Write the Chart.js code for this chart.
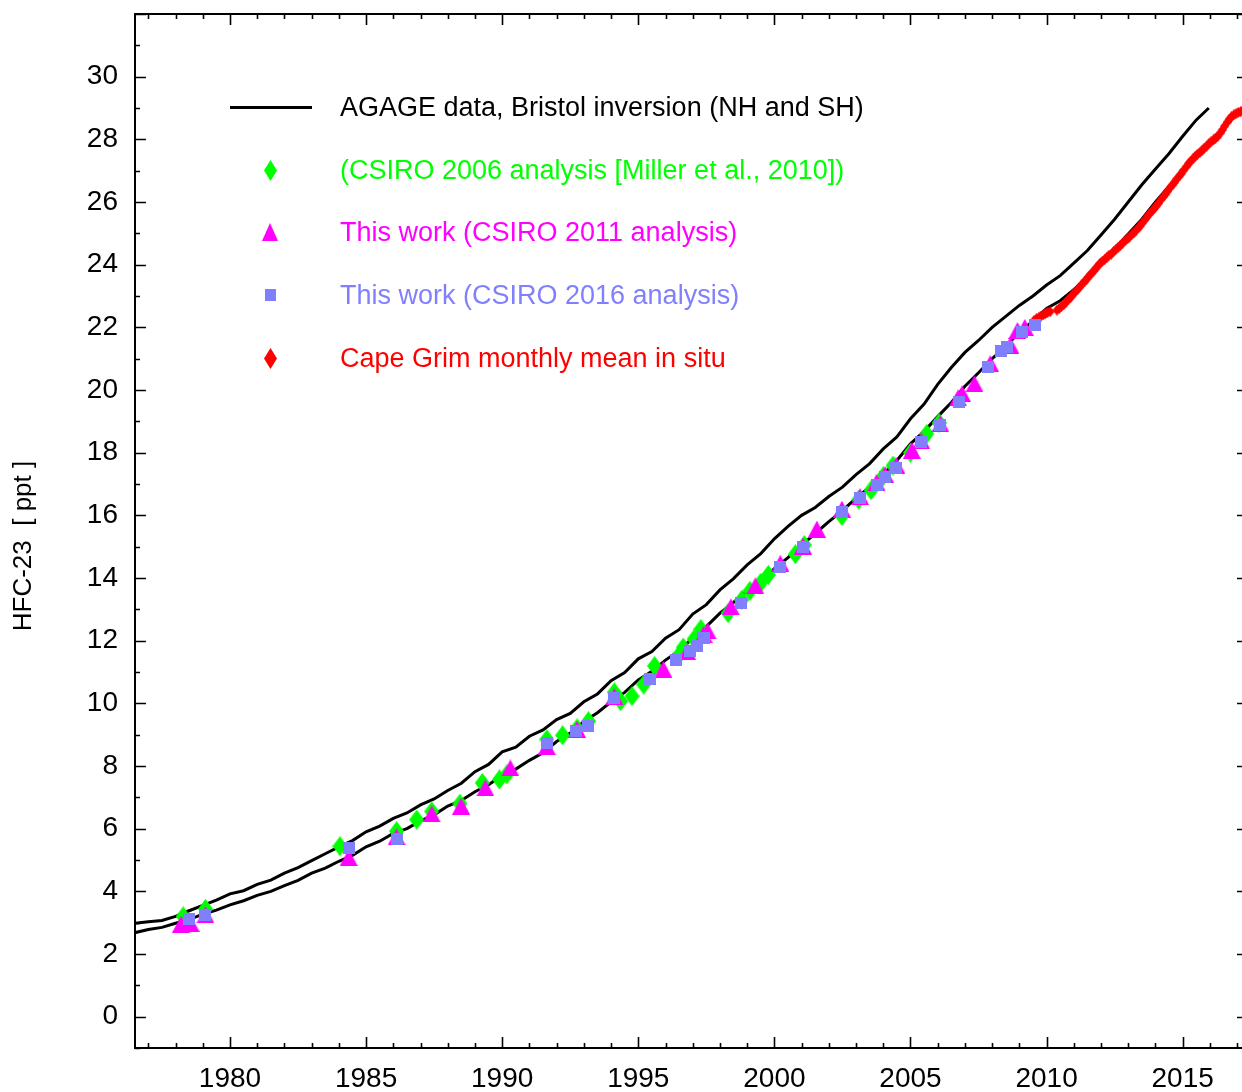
<!DOCTYPE html>
<html>
<head>
<meta charset="utf-8">
<script src="https://cdn.jsdelivr.net/npm/chart.js@4.4.1/dist/chart.umd.min.js"></script>
<style>
html,body{margin:0;padding:0;overflow:hidden;background:#fff;width:1242px;height:1092px;}
#wrap{position:relative;width:1242px;height:1092px;overflow:hidden;}
#c{position:absolute;left:0;top:0;width:1248px;height:1092px;}
#legend{position:absolute;left:0;top:0;width:1242px;height:1092px;pointer-events:none;font-family:"Liberation Sans",Arial,sans-serif;font-size:27px;}
.txt{position:absolute;left:340px;white-space:nowrap;line-height:30px;height:30px;}
.mk{position:absolute;}
#ytitle{position:absolute;left:22px;top:546px;transform:translate(-50%,-50%) rotate(-90deg);white-space:pre;font-family:"Liberation Sans",Arial,sans-serif;font-size:26px;color:#000;}
</style>
</head>
<body>
<div id="wrap"><canvas id="c" width="1248" height="1092"></canvas><div id="legend"></div><div id="ytitle"></div></div>
<script>
// ---------------- data ----------------
const xTickLabels = [1980, 1985, 1990, 1995, 2000, 2005, 2010, 2015];
const yTickLabels = [0, 2, 4, 6, 8, 10, 12, 14, 16, 18, 20, 22, 24, 26, 28, 30];
const yAxisTitle = "HFC-23  [ ppt ]";

const seriesNames = [
  "AGAGE data, Bristol inversion (NH and SH)",
  "(CSIRO 2006 analysis [Miller et al., 2010])",
  "This work (CSIRO 2011 analysis)",
  "This work (CSIRO 2016 analysis)",
  "Cape Grim monthly mean in situ"
];

const nhYears = [1976.5,1977,1977.5,1978,1978.5,1979,1979.5,1980,1980.5,1981,1981.5,1982,1982.5,1983,1983.5,1984,1984.5,1985,1985.5,1986,1986.5,1987,1987.5,1988,1988.5,1989,1989.5,1990,1990.5,1991,1991.5,1992,1992.5,1993,1993.5,1994,1994.5,1995,1995.5,1996,1996.5,1997,1997.5,1998,1998.5,1999,1999.5,2000,2000.5,2001,2001.5,2002,2002.5,2003,2003.5,2004,2004.5,2005,2005.5,2006,2006.5,2007,2007.5,2008,2008.5,2009,2009.5,2010,2010.5,2011,2011.5,2012,2012.5,2013,2013.5,2014,2014.5,2015,2015.5,2015.96];
const nhValues = [2.98,3.03,3.07,3.2,3.38,3.55,3.72,3.92,4.02,4.22,4.36,4.58,4.76,4.98,5.2,5.42,5.62,5.9,6.08,6.33,6.5,6.76,6.95,7.22,7.45,7.82,8.05,8.45,8.6,8.95,9.15,9.48,9.68,10.05,10.3,10.72,10.98,11.42,11.65,12.08,12.35,12.85,13.15,13.62,13.98,14.42,14.78,15.25,15.65,16.0,16.25,16.6,16.9,17.3,17.65,18.12,18.5,19.08,19.55,20.18,20.72,21.2,21.58,22.0,22.35,22.7,23.0,23.35,23.65,24.05,24.45,24.95,25.45,26.0,26.55,27.05,27.55,28.1,28.62,29.0];

const shYears = [1976.5,1977,1977.5,1978,1978.5,1979,1979.5,1980,1980.5,1981,1981.5,1982,1982.5,1983,1983.5,1984,1984.5,1985,1985.5,1986,1986.5,1987,1987.5,1988,1988.5,1989,1989.5,1990,1990.5,1991,1991.5,1992,1992.5,1993,1993.5,1994,1994.5,1995,1995.5,1996,1996.5,1997,1997.5,1998,1998.5,1999,1999.5,2000,2000.5,2001,2001.5,2002,2002.5,2003,2003.5,2004,2004.5,2005,2005.5,2006,2006.5,2007,2007.5,2008,2008.5,2009,2009.5,2010,2010.5,2011,2011.5,2012,2012.5,2013,2013.5,2014,2014.5,2015,2015.35];
const shValues = [2.68,2.78,2.85,2.98,3.1,3.27,3.4,3.57,3.7,3.87,4.0,4.18,4.35,4.58,4.74,4.96,5.15,5.42,5.6,5.85,6.0,6.25,6.44,6.72,6.9,7.18,7.4,7.7,7.9,8.18,8.42,8.78,9.05,9.42,9.7,10.05,10.35,10.75,11.02,11.38,11.68,12.08,12.45,12.88,13.22,13.6,13.92,14.3,14.65,15.05,15.42,15.8,16.15,16.55,16.9,17.32,17.75,18.28,18.68,19.15,19.6,20.12,20.55,21.0,21.38,21.85,22.2,22.6,22.85,23.2,23.62,24.15,24.5,24.98,25.45,26.0,26.5,26.95,27.3];

const csiro2006Years = [1978.28,1979.1,1984.04,1986.12,1986.86,1987.41,1988.45,1989.27,1989.9,1990.17,1991.64,1992.22,1992.75,1993.17,1994.12,1994.35,1994.77,1995.2,1995.6,1996.47,1996.65,1997.05,1997.3,1998.3,1998.8,1999.1,1999.5,1999.78,2000.77,2001.1,2002.48,2003.1,2003.55,2004.0,2004.36,2005.0,2005.6,2006.05];
const csiro2006Values = [3.2,3.44,5.44,5.92,6.29,6.55,6.8,7.46,7.57,7.73,8.85,8.98,9.2,9.43,10.35,10.07,10.23,10.6,11.19,11.51,11.78,12.05,12.37,12.88,13.3,13.59,13.85,14.1,14.76,15.05,15.98,16.5,16.8,17.25,17.59,18.0,18.6,18.95];

const csiro2011Years = [1978.2,1978.55,1979.1,1984.36,1986.12,1987.41,1988.49,1989.38,1990.3,1991.64,1992.75,1994.12,1995.92,1996.8,1997.4,1997.55,1998.4,1999.3,2000.22,2001.05,2001.56,2002.48,2003.15,2003.75,2004.07,2004.48,2005.05,2005.4,2006.1,2006.75,2006.9,2007.35,2007.93,2008.67,2008.93,2009.2];
const csiro2011Values = [2.95,2.98,3.25,5.08,5.74,6.47,6.72,7.3,7.94,8.62,9.17,10.22,11.09,11.65,12.2,12.31,13.08,13.75,14.47,15.02,15.56,16.2,16.6,17.05,17.3,17.6,18.07,18.38,18.92,19.75,19.88,20.2,20.84,21.43,21.9,22.0];

const csiro2016Years = [1978.49,1979.1,1984.38,1986.12,1991.64,1992.72,1993.17,1994.12,1995.44,1996.4,1996.9,1997.16,1997.4,1998.77,2000.22,2001.05,2002.48,2003.15,2003.77,2004.07,2004.48,2005.4,2006.1,2006.8,2007.83,2008.32,2008.56,2009.1,2009.56];
const csiro2016Values = [3.11,3.23,5.38,5.68,8.72,9.11,9.27,10.18,10.77,11.37,11.67,11.83,12.1,13.19,14.34,14.98,16.12,16.56,16.98,17.21,17.51,18.33,18.87,19.61,20.75,21.24,21.37,21.85,22.07];

const capeGrimYears = [2009.54,2009.63,2009.71,2009.79,2009.88,2009.96,
 2010.04,2010.13,2010.38,2010.46,2010.54,2010.63,2010.71,2010.79,2010.88,2010.96,
 2011.04,2011.13,2011.21,2011.29,2011.38,2011.46,2011.54,2011.63,2011.71,2011.79,2011.88,2011.96,
 2012.04,2012.13,2012.21,2012.29,2012.38,2012.46,2012.54,2012.63,2012.71,2012.79,2012.88,2012.96,
 2013.04,2013.13,2013.21,2013.29,2013.38,2013.46,2013.54,2013.63,2013.71,2013.79,2013.88,2013.96,
 2014.04,2014.13,2014.21,2014.29,2014.38,2014.46,2014.54,2014.63,2014.71,2014.79,2014.88,2014.96,
 2015.04,2015.13,2015.21,2015.29,2015.38,2015.46,2015.54,2015.63,2015.71,2015.79,2015.88,2015.96,
 2016.04,2016.13,2016.21,2016.29,2016.38,2016.46,2016.54,2016.63,2016.71,2016.79,2016.88,2016.96,
 2017.04,2017.13,2017.21];
const capeGrimValues = [22.22,22.28,22.30,22.36,22.40,22.44,
 22.48,22.50,22.55,22.60,22.66,22.72,22.80,22.88,22.95,23.04,
 23.12,23.20,23.28,23.36,23.45,23.52,23.62,23.70,23.78,23.86,23.95,24.04,
 24.10,24.16,24.22,24.30,24.34,24.42,24.48,24.55,24.62,24.68,24.76,24.82,
 24.88,24.96,25.02,25.10,25.18,25.26,25.36,25.45,25.55,25.63,25.72,25.80,
 25.88,25.98,26.08,26.17,26.26,26.36,26.46,26.55,26.64,26.74,26.83,26.92,
 27.02,27.12,27.22,27.30,27.38,27.46,27.52,27.58,27.64,27.72,27.78,27.86,
 27.92,27.98,28.04,28.10,28.20,28.30,28.42,28.54,28.64,28.72,28.78,28.82,
 28.86,28.88,28.92];

// ---------------- styling helpers ----------------
const FONT = '"Liberation Sans", Arial, sans-serif';
const COL = { line:'#000000', g:'#00ff00', m:'#ff00ff', b:'#8080ff', r:'#ff0000' };

function makeMarker(shape, w, h, color) {
  const c = document.createElement('canvas');
  c.width = w; c.height = h;
  const g = c.getContext('2d');
  g.fillStyle = color;
  g.beginPath();
  if (shape === 'diamond') { g.moveTo(w/2,0); g.lineTo(w,h/2); g.lineTo(w/2,h); g.lineTo(0,h/2); }
  else if (shape === 'triangle') { g.moveTo(w/2,0); g.lineTo(w,h); g.lineTo(0,h); }
  else { g.rect(0,0,w,h); }
  g.closePath(); g.fill();
  return c;
}
function pts(xs, ys) { return xs.map((x,i) => ({x:x, y:ys[i]})); }

const mkGreen = makeMarker('diamond', 15, 20, COL.g);
const mkTri = makeMarker('triangle', 18, 17, COL.m);
const mkSq = makeMarker('square', 12, 12, COL.b);
const mkRed = makeMarker('diamond', 9, 11, COL.r);

function markerSet(label, data, img) {
  return { label, data, pointStyle: img, pointRadius: 6, pointHoverRadius: 6, showLine: false,
           backgroundColor: 'transparent', borderColor: 'transparent' };
}
function lineSet(label, data) {
  return { label, data, showLine: true, pointRadius: 0, pointHoverRadius: 0, borderColor: COL.line,
           borderWidth: 3, tension: 0, fill: false };
}

// frame + inward tick marks (gnuplot-like), positioned through the scales
const framePlugin = {
  id: 'frame',
  afterDraw(chart) {
    const ctx = chart.ctx, ca = chart.chartArea, xs = chart.scales.x, ys = chart.scales.y;
    ctx.save();
    ctx.strokeStyle = '#000'; ctx.lineWidth = 2;
    ctx.strokeRect(ca.left, ca.top, ca.right - ca.left, ca.bottom - ca.top);
    ctx.lineWidth = 1.6;
    ctx.beginPath();
    for (let yr = Math.ceil(xs.min); yr <= xs.max; yr++) {
      const px = Math.round(xs.getPixelForValue(yr)) + 0.5;
      const len = (yr % 5 === 0) ? 11 : 5;
      ctx.moveTo(px, ca.bottom); ctx.lineTo(px, ca.bottom - len);
      ctx.moveTo(px, ca.top); ctx.lineTo(px, ca.top + len);
    }
    for (let v = Math.ceil(ys.min); v <= ys.max; v++) {
      const py = Math.round(ys.getPixelForValue(v)) + 0.5;
      const len = (v % 2 === 0) ? 11 : 5;
      ctx.moveTo(ca.left, py); ctx.lineTo(ca.left + len, py);
      ctx.moveTo(ca.right, py); ctx.lineTo(ca.right - len, py);
    }
    ctx.stroke();
    ctx.restore();
  }
};

function noPad(s) { s.paddingTop = 0; s.paddingBottom = 0; s.paddingLeft = 0; s.paddingRight = 0; }

const chart = new Chart(document.getElementById('c'), {
  type: 'scatter',
  data: {
    datasets: [
      markerSet(seriesNames[3], pts(csiro2016Years, csiro2016Values), mkSq),
      markerSet(seriesNames[2], pts(csiro2011Years, csiro2011Values), mkTri),
      markerSet(seriesNames[1], pts(csiro2006Years, csiro2006Values), mkGreen),
      markerSet(seriesNames[4], pts(capeGrimYears, capeGrimValues), mkRed),
      lineSet(seriesNames[0] + ' SH', pts(shYears, shValues)),
      lineSet(seriesNames[0] + ' NH', pts(nhYears, nhValues))
    ]
  },
  options: {
    responsive: false,
    devicePixelRatio: 1,
    animation: false,
    events: [],
    layout: { autoPadding: false, padding: { top: 14, right: 0, left: 0, bottom: 0 } },
    plugins: { legend: { display: false }, tooltip: { enabled: false } },
    scales: {
      x: {
        type: 'linear', min: 1976.51, max: 2017.4,
        afterFit(s) { s.height = 44; noPad(s); },
        afterBuildTicks(s) { s.ticks = xTickLabels.map(v => ({ value: v })); },
        grid: { display: false, drawTicks: false },
        border: { display: false },
        ticks: { color: '#000', font: { family: FONT, size: 28 }, padding: 14, maxRotation: 0, autoSkip: false,
                 callback: v => String(v) }
      },
      y: {
        type: 'linear', min: -1, max: 32,
        afterFit(s) { s.width = 135; noPad(s); },
        afterBuildTicks(s) { s.ticks = yTickLabels.map(v => ({ value: v })); },
        grid: { display: false, drawTicks: false },
        border: { display: false },
        ticks: { color: '#000', font: { family: FONT, size: 28 }, padding: 17, autoSkip: false,
                 callback: v => String(v) }
      }
    }
  },
  plugins: [framePlugin]
});

// ---------------- legend (HTML) ----------------
const legend = document.getElementById('legend');
const rowsY = [107, 170, 232, 295, 358];
const legendColors = [COL.line, COL.g, COL.m, COL.b, COL.r];
const legendMarkers = [null, makeMarker('diamond',13,21,COL.g), makeMarker('triangle',16,18,COL.m), makeMarker('square',11,12,COL.b), makeMarker('diamond',13,21,COL.r)];
seriesNames.forEach((name, i) => {
  const t = document.createElement('div');
  t.className = 'txt';
  t.style.top = (rowsY[i] - 15) + 'px';
  t.style.color = legendColors[i];
  t.textContent = name;
  legend.appendChild(t);
  if (i === 0) {
    const l = document.createElement('div');
    l.className = 'mk';
    l.style.cssText = 'left:230px;width:82px;height:3px;background:#000;top:' + (rowsY[i] - 1.5) + 'px;';
    legend.appendChild(l);
  } else {
    const m = legendMarkers[i];
    m.className = 'mk';
    m.style.left = (270 - m.width / 2) + 'px';
    m.style.top = (rowsY[i] - m.height / 2) + 'px';
    legend.appendChild(m);
  }
});
document.getElementById('ytitle').textContent = yAxisTitle;
</script>
</body>
</html>
